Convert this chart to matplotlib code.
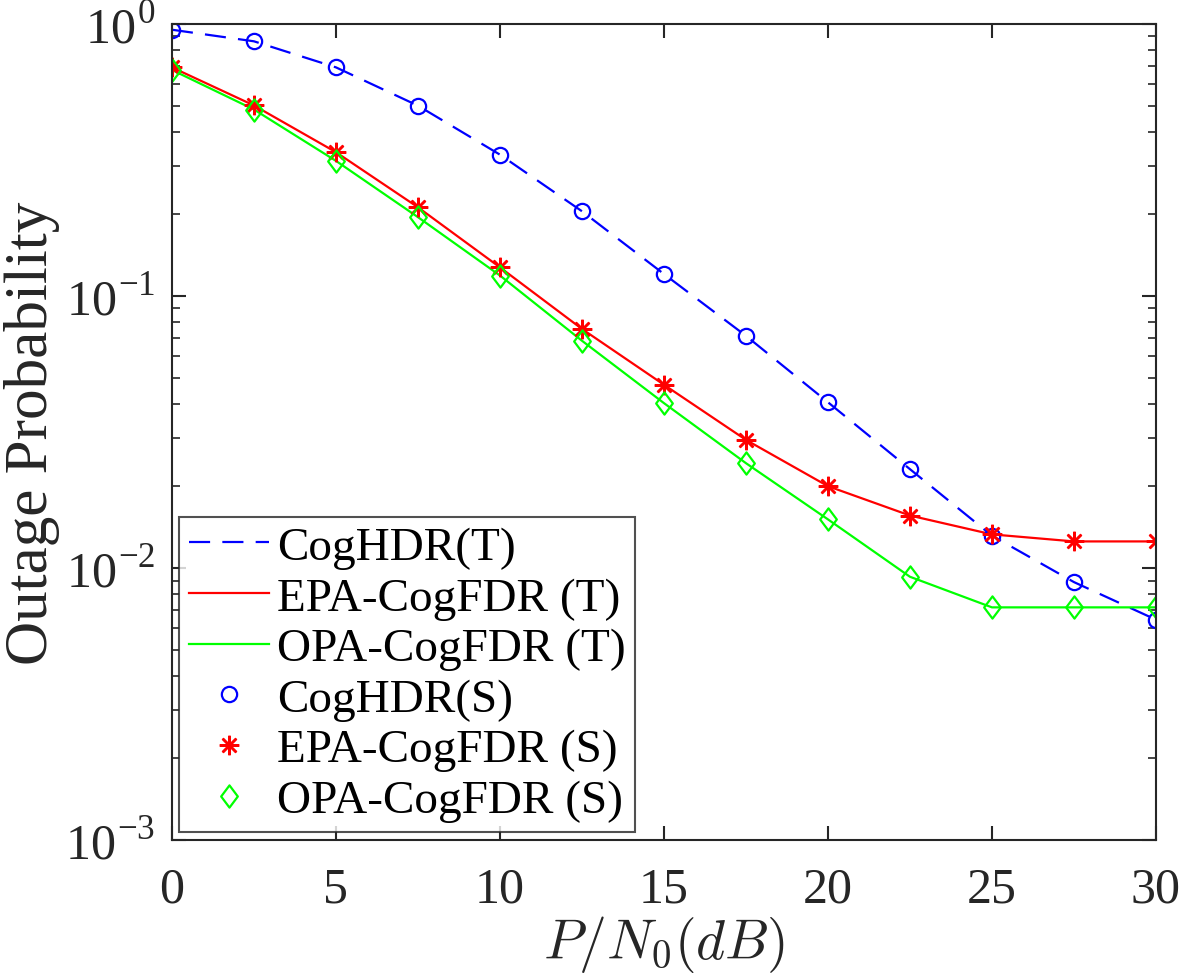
import matplotlib
matplotlib.use("Agg")
import matplotlib.pyplot as plt
import numpy as np
from matplotlib.ticker import FixedLocator, LogLocator, NullFormatter
from matplotlib.path import Path

snr_db = [0, 2.5, 5, 7.5, 10, 12.5, 15, 17.5, 20, 22.5, 25, 27.5, 30]
hdr = [0.953, 0.864, 0.693, 0.501, 0.331, 0.205, 0.1205, 0.0714, 0.0407, 0.0231, 0.01315, 0.00888, 0.00646]
epa = [0.693, 0.502, 0.338, 0.212, 0.1275, 0.0757, 0.0472, 0.0296, 0.0200, 0.0156, 0.0133, 0.01253, 0.01253]
opa = [0.678, 0.485, 0.314, 0.195, 0.119, 0.0685, 0.0404, 0.0243, 0.0151, 0.00929, 0.00717, 0.00717, 0.00717]
labels_t = ["CogHDR(T)", "EPA-CogFDR (T)", "OPA-CogFDR (T)"]
labels_s = ["CogHDR(S)", "EPA-CogFDR (S)", "OPA-CogFDR (S)"]
xticks = [0, 5, 10, 15, 20, 25, 30]
yticks = [1e-3, 1e-2, 1e-1, 1e0]
ytick_labels = ["10$^{\\mathregular{-3}}$", "10$^{\\mathregular{-2}}$", "10$^{\\mathregular{-1}}$", "10$^{\\mathregular{0}}$"]

plt.rcParams['font.family'] = ['Liberation Serif', 'DejaVu Serif']
plt.rcParams['mathtext.fontset'] = 'cm'
plt.rcParams['mathtext.rm'] = 'Liberation Serif'

fig = plt.figure(figsize=(11.81, 9.78), dpi=100)
ax = fig.add_axes([0.1456, 0.140, 0.8332, 0.8344])

blue = (0, 0, 1)
red = (1, 0, 0)
green = (0, 1, 0)
lw = 1.6

diamond = Path([(0, 1), (0.75, 0), (0, -1), (-0.75, 0), (0, 1)],
               [Path.MOVETO, Path.LINETO, Path.LINETO, Path.LINETO, Path.CLOSEPOLY])

l1, = ax.plot(snr_db, hdr, color=blue, lw=lw, dashes=(9.5, 5.5), label=labels_t[0])
l2, = ax.plot(snr_db, epa, color=red, lw=lw, label=labels_t[1])
l3, = ax.plot(snr_db, opa, color=green, lw=lw, label=labels_t[2])
m1, = ax.plot(snr_db, hdr, ls='none', marker='o', ms=11, mfc='none', mec=blue, mew=1.6, label=labels_s[0])
m2, = ax.plot(snr_db, epa, ls='none', marker=(8, 2, 0), ms=14, mfc='none', mec=red, mew=1.8, label=labels_s[1])
m3, = ax.plot(snr_db, opa, ls='none', marker=diamond, ms=16, mfc='none', mec=green, mew=1.6, label=labels_s[2])

ax.set_yscale('log')
ax.set_xlim(0, 30)
ax.set_ylim(1e-3, 1e0)
ax.set_xticks(xticks)
ax.set_xticklabels([str(v) for v in xticks])
ax.yaxis.set_major_locator(FixedLocator(yticks))
ax.set_yticklabels(ytick_labels)
ax.yaxis.set_minor_locator(LogLocator(base=10, subs=np.arange(2, 10)))
ax.yaxis.set_minor_formatter(NullFormatter())

axcol = '#262626'
for s in ax.spines.values():
    s.set_color(axcol)
    s.set_linewidth(1.5)
ax.tick_params(which='major', direction='in', length=10, width=1.5, color=axcol,
               top=True, right=True, labelsize=36, labelcolor=axcol)
ax.tick_params(which='minor', direction='in', length=6, width=1.2, color=axcol,
               top=False, right=True)
ax.tick_params(axis='x', which='major', pad=19)
ax.tick_params(axis='y', which='major', pad=12)

ax.set_xlabel('$P/N_0(dB)$', fontsize=40, color=axcol, labelpad=0)
ax.set_ylabel('Outage Probability', fontsize=44, color=axcol, labelpad=4)

leg = ax.legend(handles=[l1, l2, l3, m1, m2, m3], loc='lower left',
                bbox_to_anchor=(0.0075, 0.0105), fontsize=34, frameon=True,
                fancybox=False, edgecolor=axcol, handlelength=1.7,
                handletextpad=0.17, labelspacing=0.16, borderpad=0.2,
                borderaxespad=0)
leg.get_frame().set_linewidth(1.5)

fig.savefig('out.png', dpi=100)
